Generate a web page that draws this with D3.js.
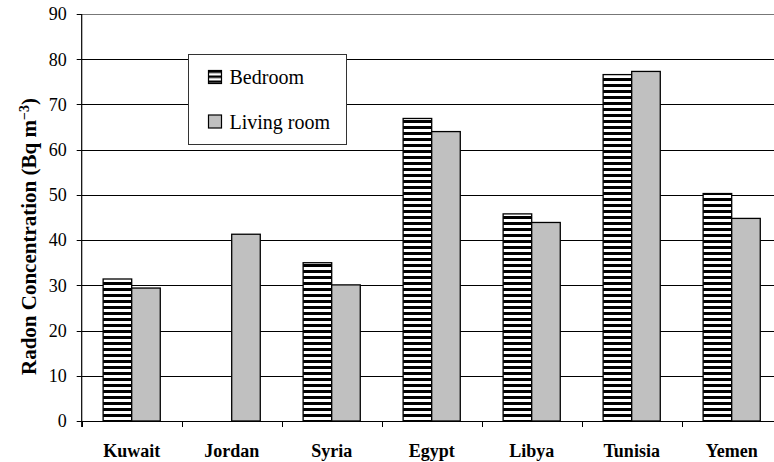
<!DOCTYPE html>
<html>
<head>
<meta charset="utf-8">
<script src="https://cdn.jsdelivr.net/npm/d3@7"></script>
<style>
  html, body { margin: 0; padding: 0; background: #fff; }
  svg { display: block; font-family: "Liberation Serif", "Times New Roman", serif; }
</style>
</head>
<body>
<svg id="chart" width="774" height="462"></svg>
<script>
// Indoor radon by country and room
const countries = ["Kuwait", "Jordan", "Syria", "Egypt", "Libya", "Tunisia", "Yemen"];
const seriesNames = ["Bedroom", "Living room"];
const bedroom = [31.4, null, 35.0, 66.9, 45.8, 76.6, 50.3];
const livingRoom = [29.4, 41.3, 30.1, 64.0, 43.9, 77.3, 44.8];
const yTicks = [0, 10, 20, 30, 40, 50, 60, 70, 80, 90];

(function () {
  const svg = d3.select("#chart");
  const W = 774;
  const plotLeft = 81.7, plotTop = 14, plotBottom = 421;
  const step = 100; // width of one category slot

  const x = d3.scaleBand().domain(countries)
    .range([plotLeft, plotLeft + step * countries.length]).paddingInner(0).paddingOuter(0);
  const x1 = d3.scaleBand().domain(seriesNames)
    .range([0, x.bandwidth()]).paddingInner(0).paddingOuter(0.75);
  const y = d3.scaleLinear().domain([0, 90]).range([plotBottom, plotTop]);

  // horizontal stripe fill for the bedroom series
  const defs = svg.append("defs");
  const pat = defs.append("pattern").attr("id", "stripes")
    .attr("patternUnits", "userSpaceOnUse").attr("width", 8).attr("height", 6);
  pat.append("rect").attr("width", 8).attr("height", 6).attr("fill", "#fff");
  pat.append("rect").attr("y", 0).attr("width", 8).attr("height", 3).attr("fill", "#000");
  const patL = defs.append("pattern").attr("id", "stripesLegend")
    .attr("patternUnits", "userSpaceOnUse").attr("width", 8).attr("height", 5)
    .attr("y", 1);
  patL.append("rect").attr("width", 8).attr("height", 5).attr("fill", "#fff");
  patL.append("rect").attr("width", 8).attr("height", 2.5).attr("fill", "#000");

  const fills = { "Bedroom": "url(#stripes)", "Living room": "#c0c0c0" };

  // gridlines (the top one doubles as the plot frame, drawn lighter)
  svg.append("g").selectAll("line").data(yTicks.filter(d => d > 0)).join("line")
    .attr("x1", plotLeft).attr("x2", W)
    .attr("y1", d => Math.round(y(d)) + 0.5).attr("y2", d => Math.round(y(d)) + 0.5)
    .attr("stroke", d => d === 90 ? "#777" : "#000").attr("stroke-width", 1);

  // bars
  const rows = countries.map((c, i) => ({ country: c, values: [
    { key: "Bedroom", value: bedroom[i] },
    { key: "Living room", value: livingRoom[i] }
  ]}));

  const groups = svg.append("g").selectAll("g").data(rows).join("g")
    .attr("transform", d => `translate(${x(d.country)},0)`);
  groups.selectAll("rect").data(d => d.values.filter(v => v.value != null)).join("rect")
    .attr("x", d => x1(d.key))
    .attr("y", d => y(d.value))
    .attr("width", x1.bandwidth())
    .attr("height", d => plotBottom - y(d.value))
    .attr("fill", d => fills[d.key])
    .attr("stroke", "#000").attr("stroke-width", 1.3);

  // y axis
  const yAxis = svg.append("g").attr("transform", `translate(${plotLeft},0)`);
  yAxis.append("line").attr("x1", 0).attr("x2", 0).attr("y1", plotTop).attr("y2", plotBottom + 6)
    .attr("stroke", "#000").attr("stroke-width", 1.2);
  yAxis.selectAll("line.tick").data(yTicks).join("line").attr("class", "tick")
    .attr("x1", -5).attr("x2", 0)
    .attr("y1", d => Math.round(y(d)) + 0.5).attr("y2", d => Math.round(y(d)) + 0.5)
    .attr("stroke", "#000");
  yAxis.selectAll("text").data(yTicks).join("text")
    .attr("x", -15).attr("y", d => y(d)).attr("dy", "0.35em")
    .attr("text-anchor", "end").attr("font-size", 18).attr("fill", "#000")
    .text(d => d);

  // x axis
  const xAxis = svg.append("g");
  xAxis.append("line").attr("x1", plotLeft).attr("x2", W)
    .attr("y1", plotBottom + 0.5).attr("y2", plotBottom + 0.5).attr("stroke", "#000").attr("stroke-width", 1.2);
  const boundaries = countries.map(c => x(c)).concat([x(countries[countries.length - 1]) + x.bandwidth()]);
  xAxis.selectAll("line.tick").data(boundaries).join("line").attr("class", "tick")
    .attr("x1", d => Math.round(d) + 0.5).attr("x2", d => Math.round(d) + 0.5)
    .attr("y1", plotBottom).attr("y2", plotBottom + 6).attr("stroke", "#000");
  xAxis.selectAll("text").data(countries).join("text")
    .attr("x", d => x(d) + x.bandwidth() / 2).attr("y", 456.5)
    .attr("text-anchor", "middle").attr("font-size", 18).attr("font-weight", "bold")
    .attr("fill", "#000").text(d => d);

  // y axis title
  const title = svg.append("text")
    .attr("transform", "translate(35.5,375) rotate(-90)")
    .attr("text-anchor", "start").attr("font-size", 21).attr("font-weight", "bold")
    .attr("fill", "#000");
  title.append("tspan").text("Radon Concentration (Bq m");
  title.append("tspan").attr("dy", "-0.45em").attr("font-size", 14).text("\u22123");
  title.append("tspan").attr("dy", "0.3em").text(")");

  // legend
  const lg = svg.append("g").attr("transform", "translate(188.5,54.5)");
  lg.append("rect").attr("width", 158).attr("height", 90)
    .attr("fill", "#fff").attr("stroke", "#333").attr("stroke-width", 1);
  const legendFills = { "Bedroom": "url(#stripesLegend)", "Living room": "#c0c0c0" };
  seriesNames.forEach((s, i) => {
    const cy = 22.5 + i * 44.5;
    lg.append("rect").attr("x", 20).attr("y", cy - 6.5).attr("width", 13).attr("height", 13)
      .attr("fill", legendFills[s]).attr("stroke", "#000").attr("stroke-width", 1.2);
    lg.append("text").attr("x", 41).attr("y", cy + 7).attr("font-size", 20)
      .attr("fill", "#000").text(s);
  });
})();
</script>
</body>
</html>
